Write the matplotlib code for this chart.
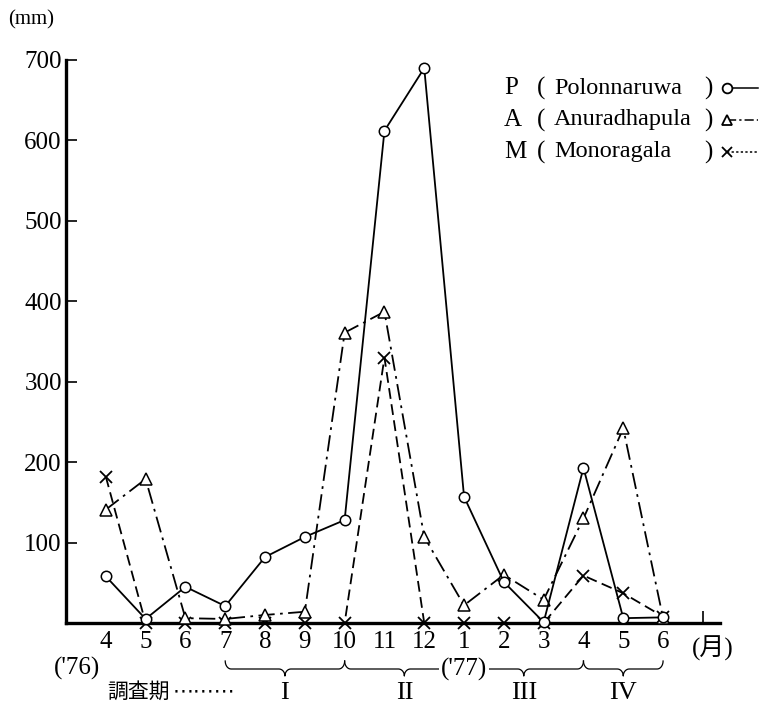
import numpy as np
import matplotlib
matplotlib.use('Agg')
import matplotlib.pyplot as plt
import matplotlib.transforms as mtransforms
from matplotlib.lines import Line2D

plt.rcParams['font.family'] = ['Liberation Serif', 'Noto Sans CJK JP']

# monthly rainfall (mm), Apr 1976 - Jun 1977
months = ['4', '5', '6', '7', '8', '9', '10', '11', '12', '1', '2', '3', '4', '5', '6']
polonnaruwa = [58, 5, 45, 21, 82, 107, 128, 612, 690, 157, 51, 1, 193, 6, 7]
anuradhapula = [141, 179, 6, 5, 10, 14, 361, 387, 107, 22, 60, 29, 130, 242, 6]
monoragala = [182, 0, 0, 0, 0, 0, 0, 330, 0, 0, 0, 0, 59, 37, 8]
yticks = [100, 200, 300, 400, 500, 600, 700]

# survey periods: (label, start index, end index)
periods = [('I', 3, 6), ('II', 6, 9), ('III', 9, 12), ('IV', 12, 14)]

W, H = 764, 706
fig = plt.figure(figsize=(W / 100, H / 100), dpi=100)
ax = fig.add_axes([66 / W, 1 - 623 / H, (720 - 66) / W, (623 - 60) / H])

def px(x, y):
    return x / W, 1 - y / H

x = np.arange(len(months))

ax.plot(x, polonnaruwa, color='black', lw=1.3, marker='o', ms=7.5,
        mfc='white', mec='black', mew=1.1, clip_on=False, zorder=5)
ax.plot(x, anuradhapula, color='black', lw=1.3, ls=(0, (9, 3, 1.5, 3)),
        marker='^', ms=8, mfc='white', mec='black', mew=1.1, clip_on=False, zorder=4)
ax.plot(x, monoragala, color='black', lw=1.3, ls=(0, (6, 3)),
        marker='x', ms=8, mec='black', mew=1.3, clip_on=False, zorder=3)

ax.set_xlim(-1, 15.43)
ax.set_ylim(0, 700)
for s in ['top', 'right']:
    ax.spines[s].set_visible(False)
ax.spines['left'].set_linewidth(2.4)
ax.spines['bottom'].set_linewidth(2.4)

ax.set_yticks(yticks)
ax.set_yticklabels([str(v) for v in yticks], fontsize=18)
ax.tick_params(axis='y', direction='in', length=8, width=1.2, pad=3)
ax.set_xticks(x)
ax.set_xticklabels(months, fontsize=18)
ax.tick_params(axis='x', length=0, pad=6)
ax.set_xticks([15], minor=True)
ax.tick_params(axis='x', which='minor', direction='in', length=9, width=1.2)

# unit labels
fig.text(*px(8, 20), '(mm)', fontsize=15, va='center', ha='left')
fig.text(*px(713, 648), '(月)', fontsize=18, va='center', ha='center')
fig.text(*px(77, 668), "('76)", fontsize=18, va='center', ha='center')

# survey period braces
bt = mtransforms.blended_transform_factory(ax.transData, fig.transFigure)
yl = 1 - 669 / H
hh, hc, r = 8 / H, 7 / H, 0.15
t = np.linspace(0, np.pi / 2, 12)
for lab, i0, i1 in periods:
    xm = (i0 + i1) / 2
    xs = np.concatenate([i0 + r * (1 - np.cos(t)), xm - r + r * np.sin(t),
                         (xm + r - r * np.sin(t))[::-1], (i1 - r * (1 - np.cos(t)))[::-1]])
    ys = np.concatenate([yl + hh * (1 - np.sin(t)), yl - hc * (1 - np.cos(t)),
                         (yl - hc * (1 - np.cos(t)))[::-1], (yl + hh * (1 - np.sin(t)))[::-1]])
    ax.plot(xs, ys, color='black', lw=0.9, transform=bt, clip_on=False)
    ax.text(xm, 1 - 693 / H, lab, transform=bt, fontsize=19, ha='center', va='center')
ax.text(9, yl, "('77)", transform=bt, fontsize=18, ha='center', va='center',
        bbox=dict(facecolor='white', edgecolor='none', pad=1))
fig.text(*px(107, 692), '調査期', fontsize=15, va='center', ha='left',
         family=['Noto Sans CJK JP'])
fig.text(*px(173, 691), '⋯⋯⋯', fontsize=15, va='center', ha='left',
         family=['DejaVu Sans'])

# legend: key letter, "(", station name, ")", sample line
legend_rows = [('P', 'Polonnaruwa', 88, dict(marker='o', ls='-')),
               ('A', 'Anuradhapula', 120, dict(marker='^', ls=(0, (6, 2, 1.5, 2)))),
               ('M', 'Monoragala', 152, dict(marker='x', ls=(0, (1.5, 1.5))))]
for key, name, yy, st in legend_rows:
    fig.text(*px(504, yy), key, fontsize=18, va='center', ha='left')
    fig.text(*px(537, yy), '(', fontsize=18, va='center', ha='left')
    fig.text(*px(554, yy), name, fontsize=17.5, va='center', ha='left')
    fig.text(*px(704, yy), ')', fontsize=18, va='center', ha='left')
    x0, y0 = px(727, yy)
    x1, _ = px(758, yy)
    fig.add_artist(Line2D([x0, x1], [y0, y0], color='black', lw=1.1, ls=st['ls'],
                          marker=st['marker'], markevery=[0], ms=7, mfc='white',
                          mec='black', mew=1.3, transform=fig.transFigure))

fig.savefig('out.png', dpi=100)
